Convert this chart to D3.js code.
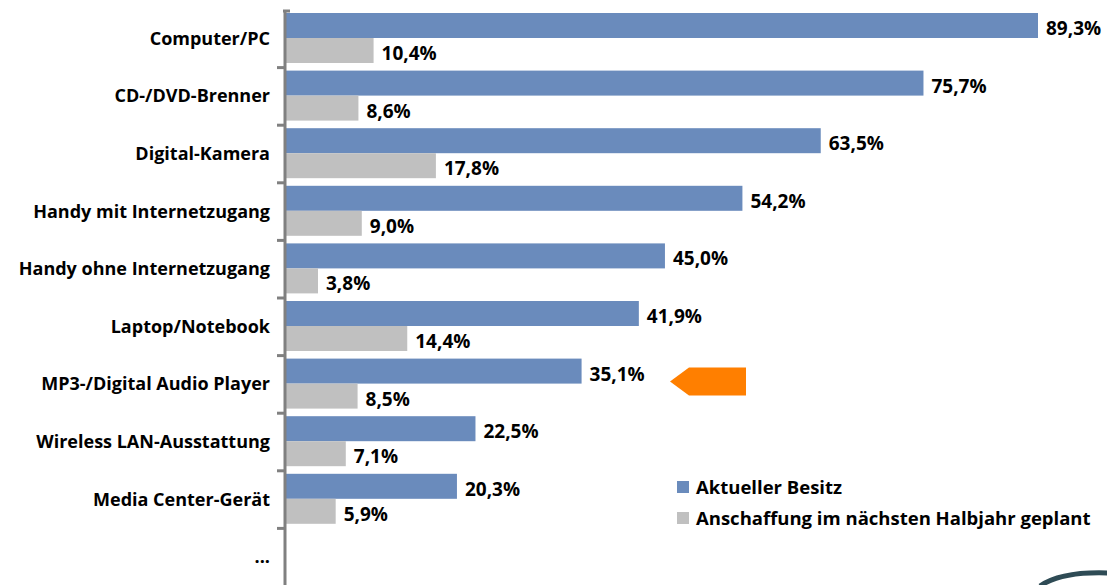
<!DOCTYPE html>
<html>
<head>
<meta charset="utf-8">
<script src="https://cdn.jsdelivr.net/npm/d3@7"></script>
<style>
  body { margin: 0; background: #fff; }
  svg text { font-family: "Open Sans", sans-serif; font-weight: 700; fill: #000; }
</style>
</head>
<body>
<div class="chart"></div>
<script>
var categories = ['Computer/PC', 'CD-/DVD-Brenner', 'Digital-Kamera', 'Handy mit Internetzugang',
                  'Handy ohne Internetzugang', 'Laptop/Notebook', 'MP3-/Digital Audio Player',
                  'Wireless LAN-Ausstattung', 'Media Center-Gerät', '...'];
var besitz = [89.3, 75.7, 63.5, 54.2, 45.0, 41.9, 35.1, 22.5, 20.3, null];
var geplant = [10.4, 8.6, 17.8, 9.0, 3.8, 14.4, 8.5, 7.1, 5.9, null];
var seriesNames = ['Aktueller Besitz', 'Anschaffung im nächsten Halbjahr geplant'];
var colors = ['#6A8BBC', '#C0C0C0'];

var w = 1107,
    h = 585;

var svg = d3.select('.chart').append('svg').attr('width', w).attr('height', h);

var x = d3.scaleLinear().domain([0, 89.3]).range([286, 1038]);
var y = d3.scaleBand().domain(categories).range([10, 586]);

var fmt = function (v) { return v.toFixed(1).replace('.', ',') + '%'; };

var rows = svg.selectAll('.row')
              .data(categories)
              .enter().append('g')
              .attr('class', 'row')
              .attr('transform', function (d) { return 'translate(0,' + y(d) + ')'; });

rows.append('text')
    .attr('x', 270)
    .attr('y', y.bandwidth() / 2 + 6)
    .attr('text-anchor', 'end')
    .style('font-size', '18px')
    .text(function (d) { return d; });

var series = [besitz, geplant];
series.forEach(function (vals, s) {
  var barTop = 3 + s * 25;
  rows.filter(function (d, i) { return vals[i] != null; })
      .append('rect')
      .attr('x', x(0))
      .attr('y', barTop)
      .attr('height', 25)
      .attr('width', function (d) { return x(vals[categories.indexOf(d)]) - x(0); })
      .attr('fill', colors[s]);

  rows.filter(function (d, i) { return vals[i] != null; })
      .append('text')
      .attr('x', function (d) { return x(vals[categories.indexOf(d)]) + 8; })
      .attr('y', barTop + 22)
      .style('font-size', '19px')
      .text(function (d) { return fmt(vals[categories.indexOf(d)]); });
});

// axis line, ticks drawn on the left at band boundaries
var axis = d3.axisLeft(y).tickValues([]).tickSize(0).tickSizeOuter(0);
svg.append('g')
   .attr('transform', 'translate(284.5,0)')
   .call(axis)
   .call(function (g) { g.select('.domain').attr('stroke', '#808080').attr('stroke-width', 3); });

svg.selectAll('.tick-line')
   .data(categories.slice(1))
   .enter().append('line')
   .attr('x1', 277).attr('x2', 285)
   .attr('y1', function (d) { return y(d); })
   .attr('y2', function (d) { return y(d); })
   .attr('stroke', '#808080')
   .attr('stroke-width', 3);

svg.append('line')
   .attr('x1', 283).attr('x2', 290)
   .attr('y1', y.range()[0] + 1).attr('y2', y.range()[0] + 1)
   .attr('stroke', '#808080').attr('stroke-width', 3);

// orange marker arrow next to the MP3 row
var ay = y('MP3-/Digital Audio Player') + 26;
svg.append('path')
   .attr('d', 'M670,' + ay + ' L689,' + (ay - 14) + ' L746,' + (ay - 14) + ' L746,' + (ay + 14) + ' L689,' + (ay + 14) + ' Z')
   .attr('fill', '#FF7F00');

// legend
var legend = svg.selectAll('.legend')
                .data(seriesNames)
                .enter().append('g')
                .attr('class', 'legend')
                .attr('transform', function (d, i) { return 'translate(677,' + (481 + i * 31) + ')'; });

legend.append('rect')
      .attr('width', 12).attr('height', 12)
      .attr('fill', function (d, i) { return colors[i]; });

legend.append('text')
      .attr('x', 19).attr('y', 13)
      .style('font-size', '18.5px')
      .text(function (d) { return d; });

// logo fragment in the corner
svg.append('path')
   .attr('d', 'M1040,586 Q1062,571 1110,573')
   .attr('fill', 'none')
   .attr('stroke', '#2E4B55')
   .attr('stroke-width', 5);
</script>
</body>
</html>
